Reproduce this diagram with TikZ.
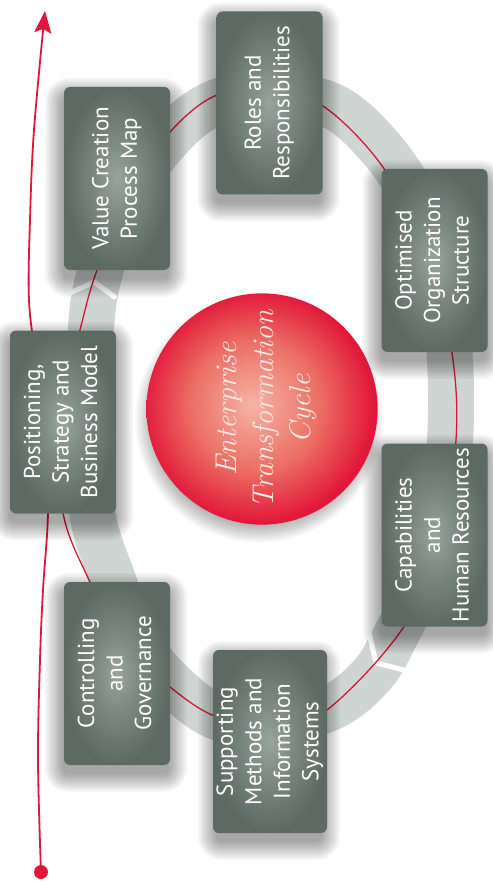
\documentclass[tikz,border=0pt]{standalone}
\usepackage{fontspec}
\usepackage{graphicx}
\newfontfamily\boxfont{PT Sans}
\usetikzlibrary{arrows.meta}
\definecolor{boxedge}{RGB}{92,106,99}
\definecolor{boxmid}{RGB}{152,164,158}
\definecolor{boxhalf}{RGB}{120,134,127}
\definecolor{bandgrey}{RGB}{207,213,210}
\definecolor{ringred}{RGB}{214,24,56}
\definecolor{arrowred}{RGB}{226,22,58}
\definecolor{ballred}{RGB}{226,24,58}
\definecolor{ballpink}{RGB}{246,180,166}
\definecolor{ballhalf}{RGB}{236,110,100}
\definecolor{balltext}{RGB}{253,236,232}
\pgfdeclareradialshading{boxshade}{\pgfpoint{0bp}{0bp}}{color(0bp)=(boxmid);color(12bp)=(boxhalf);color(25bp)=(boxedge);color(50bp)=(boxedge)}
\pgfdeclareradialshading{ballshade}{\pgfpoint{-2bp}{1bp}}{color(0bp)=(ballpink);color(14bp)=(ballhalf);color(25bp)=(ballred);color(50bp)=(ballred)}
\newcommand\uptext[1]{\rotatebox{90}{\begin{tabular}{@{}c@{}}#1\end{tabular}}}
% soft shadow behind a 106 x 183 box centred at (#1,#2)
\newcommand\boxshadow[2]{%
  \foreach \k in {0,...,13}{%
    \pgfmathsetmacro\sx{53+\k*1.4}%
    \pgfmathsetmacro\sy{91.5+\k*1.4}%
    \pgfmathsetmacro\rr{6+\k*1.4}%
    \fill[black, fill opacity=0.026, rounded corners=\rr pt]
      ({#1-1-\sx},{#2+9-\sy}) rectangle ({#1-1+\sx},{#2+9+\sy});
  }}
\begin{document}
\begin{tikzpicture}[x=1pt,y=-1pt,
  stagebox/.style={rectangle, rounded corners=6pt, minimum width=106pt,
    minimum height=183pt, inner sep=0pt, shading=boxshade, text=white,
    font=\boxfont\fontsize{23}{28.5}\selectfont},
  ball/.style={circle, minimum size=211pt, inner sep=0pt, shading=ballshade,
    text=balltext, font=\itshape\fontsize{30}{37}\selectfont},
  bandline/.style={draw=bandgrey, line width=46pt},
  chevron/.style={draw=white, line width=5pt, line join=miter},
  ringline/.style={draw=ringred, line width=1.3pt},
  arrowline/.style={draw=arrowred, line width=1.8pt, -{Stealth[length=22pt,width=17pt,inset=4pt]}}
]
\useasboundingbox (0,0) rectangle (492,893);
\fill[white] (0,0) rectangle (492,893);

% grey band
\draw[bandline] plot[smooth cycle, tension=0.6] coordinates {
  (268,96) (330,105) (378,145) (418,205) (442,280) (450,360) (450,440)
  (440,520) (420,585) (397,633) (372,675) (330,708) (270,722) (217,717)
  (170,682) (135,637) (113,580) (93,517) (86,430) (90,340) (98,280)
  (125,200) (172,135) (217,102)};
% chevron gaps
\draw[chevron] (70,293) -- (94,282) -- (116,298);
\draw[chevron] (368,628) -- (376,663) -- (408,671);

% red ring
\draw[ringline] plot[smooth cycle, tension=0.6] coordinates {
  (270,92) (323,106) (385,170) (430,260) (452,353) (456,440) (440,540)
  (403,628) (323,713) (270,724) (217,717) (170,687) (120,640) (89,580)
  (63,513) (58,420) (80,330) (97,270) (130,190) (170,132) (217,95)};

% red arrow
\coordinate (arrowstart) at (41,872);
\coordinate (arrowend) at (45,11);
\draw[arrowline] plot[smooth, tension=0.6] coordinates {
  (arrowstart) (38,760) (40,660) (43,590) (48,513) (46,440) (36,360)
  (29,300) (30,220) (34,130) (arrowend)};
\fill[arrowred] (arrowstart) circle (7pt);

% shadows
\boxshadow{269.5}{103}
\boxshadow{117}{178.5}
\boxshadow{434.5}{260.5}
\boxshadow{63}{422}
\boxshadow{434.5}{535}
\boxshadow{117}{673.5}
\boxshadow{270}{741.5}
\foreach \k in {0,...,13}{%
  \pgfmathsetmacro\cr{105.5+\k*1.4}%
  \fill[black, fill opacity=0.024] (259,419) circle (\cr pt);
}

% stage boxes
\node[stagebox] (roles) at (269.5,103) {\uptext{Roles and\\Responsibilities}};
\node[stagebox] (value) at (117,178.5) {\uptext{Value Creation\\Process Map}};
\node[stagebox] (optim) at (434.5,260.5) {\uptext{Optimised\\Organization\\Structure}};
\node[stagebox] (posit) at (63,422) {\uptext{Positioning,\\Strategy and\\Business Model}};
\node[stagebox] (capab) at (434.5,535) {\uptext{Capabilities\\and\\Human Resources}};
\node[stagebox] (contr) at (117,673.5) {\uptext{Controlling\\and\\Governance}};
\node[stagebox] (suppo) at (270,741.5) {\uptext{Supporting\\Methods and\\Information\\Systems}};

% centre ball
\node[ball] (core) at (262,409) {\hspace*{8pt}\uptext{Enterprise\\Transformation\\Cycle}};
\end{tikzpicture}
\end{document}
